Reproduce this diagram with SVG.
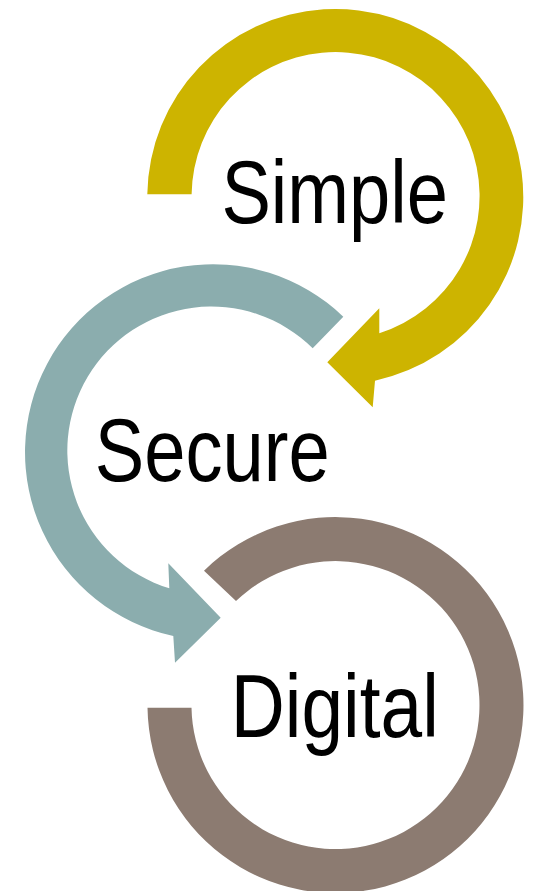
<svg xmlns="http://www.w3.org/2000/svg" width="535" height="891" viewBox="0 0 535 891">
  <style>
    .label { font-family: "Liberation Sans", Arial, sans-serif; font-size: 89px; fill: #000000; }
    .gold { fill: #CDB400; }
    .teal { fill: #8BADAE; }
    .brown { fill: #8C7B71; }
  </style>
  <rect width="535" height="891" fill="#FFFFFF"/>

  <!-- Simple: open ring turning clockwise, arrowhead pointing into the next ring -->
  <g id="node-simple">
    <path class="gold" d="M 147.3,194.3 A 188 188 0 1 1 375,380.7 L 372.7,407.3 L 327.3,362.3 L 379.3,308.3 L 379.3,333.3 A 144 144 0 1 0 191.6,194.3 Z"/>
    <text class="label" x="221.4" y="223" textLength="226.6" lengthAdjust="spacingAndGlyphs">Simple</text>
  </g>

  <!-- Secure: open ring turning counter-clockwise -->
  <g id="node-secure">
    <path class="teal" d="M 343.3,316.7 A 188 188 0 1 0 173.3,636 L 175,662.7 L 220.7,617.7 L 168.3,563.3 L 169.3,588.3 A 144 144 0 1 1 312.7,348.3 Z"/>
    <text class="label" x="94.7" y="480.5" textLength="235" lengthAdjust="spacingAndGlyphs">Secure</text>
  </g>

  <!-- Digital: open ring without arrowhead -->
  <g id="node-digital">
    <path class="brown" d="M 204,570.7 A 188 188 0 1 1 147.5,707.7 L 191.5,707.7 A 144 144 0 1 0 236,601 Z"/>
    <text class="label" x="230.8" y="737.3" textLength="208" lengthAdjust="spacingAndGlyphs">Digital</text>
  </g>

  <g id="connectors"/>
</svg>
